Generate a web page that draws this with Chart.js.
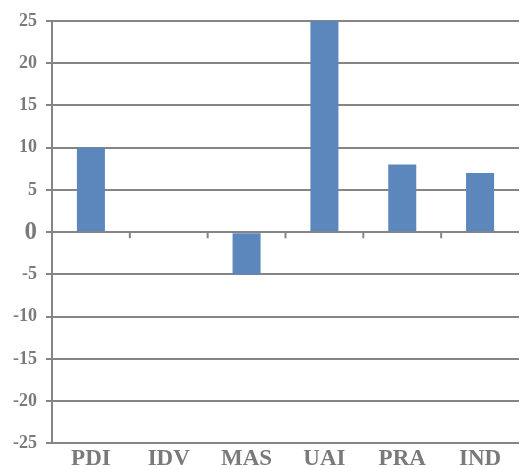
<!DOCTYPE html>
<html>
<head>
<meta charset="utf-8">
<script src="https://cdn.jsdelivr.net/npm/chart.js@4/dist/chart.umd.min.js"></script>
<style>
    html, body { margin: 0; padding: 0; background: #fff; }
    #wrap { width: 520px; height: 468px; }
</style>
</head>
<body>
<div id="wrap"><canvas id="myChart"></canvas></div>
<script>
const categories = ['PDI', 'IDV', 'MAS', 'UAI', 'PRA', 'IND'];
const scores = [10, 0, -5, 25, 8, 7];
const yTicks = [-25, -20, -15, -10, -5, 0, 5, 10, 15, 20, 25];

const gray = '#858585';
const labelColor = '#7a7a7a';

// small tick marks along the zero line, between the categories
const zeroTicks = {
    id: 'zeroTicks',
    afterDatasetsDraw(chart) {
        const x = chart.scales.x;
        const y = chart.scales.y;
        const y0 = y.getPixelForValue(0);
        const ctx = chart.ctx;
        ctx.save();
        ctx.strokeStyle = gray;
        ctx.lineWidth = 2;
        ctx.beginPath();
        for (let i = 1; i < categories.length; i++) {
            const px = (x.getPixelForValue(i - 1) + x.getPixelForValue(i)) / 2;
            ctx.moveTo(px, y0);
            ctx.lineTo(px, y0 + 6);
        }
        ctx.stroke();
        ctx.restore();
    }
};

new Chart(document.getElementById('myChart'), {
    type: 'bar',
    data: {
        labels: categories,
        datasets: [{
            data: scores,
            backgroundColor: '#5b87bd',
            barPercentage: 0.36,
            categoryPercentage: 1
        }]
    },
    options: {
        responsive: true,
        maintainAspectRatio: false,
        animation: false,
        layout: { padding: { top: 21, right: 1, left: 4, bottom: -7 } },
        plugins: { legend: { display: false }, tooltip: { enabled: false } },
        scales: {
            x: {
                grid: { display: false, drawTicks: false },
                border: { display: false },
                ticks: {
                    color: labelColor,
                    padding: 2,
                    font: { family: '"Liberation Serif", serif', size: 23, weight: 'bold' }
                }
            },
            y: {
                min: -25,
                max: 25,
                afterBuildTicks(axis) {
                    axis.ticks = yTicks.map(v => ({ value: v }));
                },
                grid: { color: gray, lineWidth: 2, tickLength: 6, tickColor: gray },
                border: { display: true, color: gray, width: 2 },
                ticks: {
                    color: labelColor,
                    padding: 9,
                    font: ctx => ({
                        family: '"Liberation Serif", serif',
                        weight: 'bold',
                        size: ctx.tick && ctx.tick.value === 0 ? 25 : 18
                    })
                }
            }
        }
    },
    plugins: [zeroTicks]
});
</script>
</body>
</html>
